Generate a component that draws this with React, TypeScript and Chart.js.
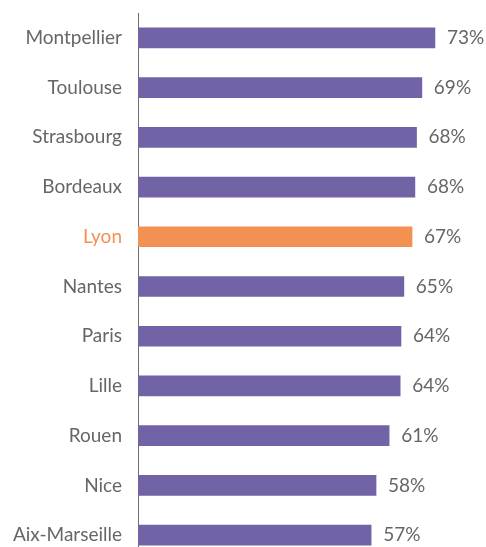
import React, { useEffect, useRef } from "react";
import { Chart, registerables } from "chart.js";

Chart.register(...registerables);

const cities = [
  "Montpellier",
  "Toulouse",
  "Strasbourg",
  "Bordeaux",
  "Lyon",
  "Nantes",
  "Paris",
  "Lille",
  "Rouen",
  "Nice",
  "Aix-Marseille",
];
const shares = [72.6, 69.4, 68.1, 67.7, 67.0, 65.0, 64.3, 64.1, 61.4, 58.2, 57.0];
const valueLabels = ["73%", "69%", "68%", "68%", "67%", "65%", "64%", "64%", "61%", "58%", "57%"];
const highlighted = "Lyon";

const PURPLE = "#7163a6";
const ORANGE = "#f29152";
const TEXT = "#666666";
const FONT = { family: "Lato, 'Open Sans', sans-serif", size: 19 };

const valueLabelPlugin = {
  id: "valueLabels",
  afterDatasetsDraw(chart: any) {
    const meta = chart.getDatasetMeta(0);
    const ctx = chart.ctx;
    ctx.save();
    ctx.font = `${FONT.size}px ${FONT.family}`;
    ctx.fillStyle = TEXT;
    ctx.textAlign = "left";
    ctx.textBaseline = "middle";
    meta.data.forEach((bar: any, i: number) => {
      ctx.fillText(valueLabels[i], bar.x + 12, bar.y);
    });
    ctx.restore();
  },
};

export default function App() {
  const ref = useRef<HTMLCanvasElement | null>(null);
  useEffect(() => {
    if (!ref.current) return;
    const chart = new Chart(ref.current, {
      type: "bar",
      data: {
        labels: cities,
        datasets: [
          {
            data: shares,
            backgroundColor: cities.map((c) => (c === highlighted ? ORANGE : PURPLE)),
            barThickness: 20,
            borderWidth: 0,
          },
        ],
      },
      options: {
        indexAxis: "y",
        responsive: false,
        animation: false,
        devicePixelRatio: 1,
        layout: { padding: { top: 13, right: 20.8, bottom: 0, left: 0 } },
        plugins: { legend: { display: false }, tooltip: { enabled: false } },
        scales: {
          x: { display: false, min: 0, max: 80 },
          y: {
            grid: { display: false, drawTicks: false },
            border: { display: true, color: "#6e6e6e", width: 1 },
            ticks: {
              padding: 16,
              font: FONT,
              color: (ctx: any) => (cities[ctx.index] === highlighted ? ORANGE : TEXT),
            },
            afterFit: (scale: any) => {
              scale.width = 138;
              scale.paddingTop = 0;
              scale.paddingBottom = 0;
            },
          },
        },
      },
      plugins: [valueLabelPlugin],
    });
    return () => chart.destroy();
  }, []);
  return (
    <div
      style={{
        position: "fixed",
        left: 0,
        top: 0,
        width: 486,
        height: 547,
        overflow: "hidden",
        background: "#fff",
      }}
    >
      <canvas ref={ref} width={486} height={560} style={{ display: "block" }} />
    </div>
  );
}
